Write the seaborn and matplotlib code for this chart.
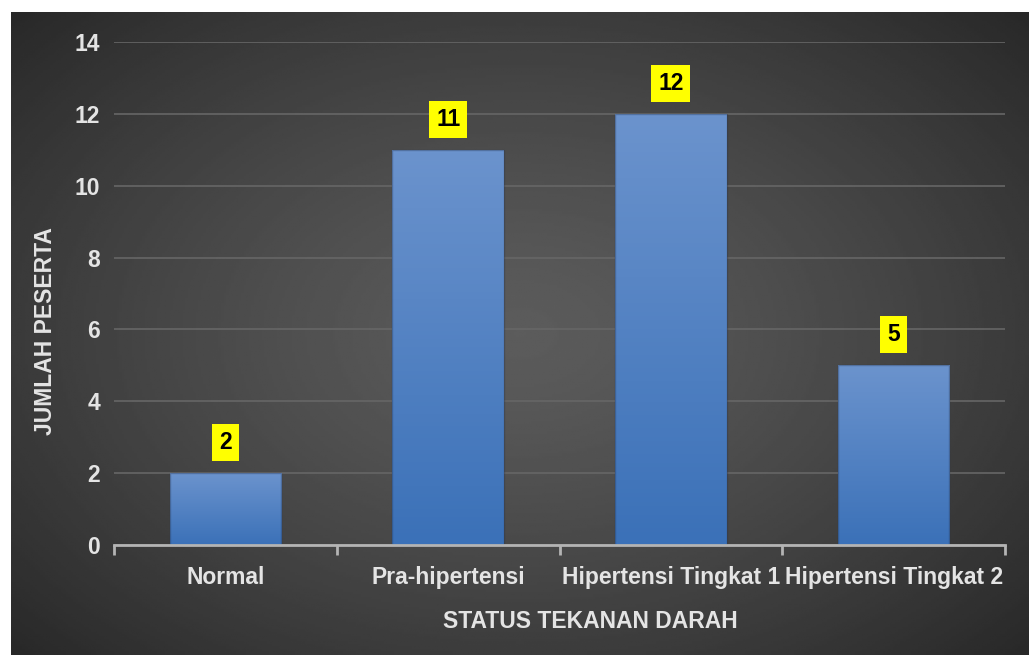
import numpy as np
import pandas as pd
import matplotlib
matplotlib.use("Agg")
import matplotlib.pyplot as plt
import seaborn as sns
from matplotlib.colors import LinearSegmentedColormap

# data
status = ["Normal", "Pra-hipertensi", "Hipertensi Tingkat 1", "Hipertensi Tingkat 2"]
jumlah = [2, 11, 12, 5]
y_ticks = [0, 2, 4, 6, 8, 10, 12, 14]

df = pd.DataFrame({"status": status, "jumlah": jumlah})

sns.set_theme(style="dark")
plt.rcParams['font.family'] = ['Liberation Sans', 'DejaVu Sans']
plt.rcParams['font.weight'] = 'bold'

W, H = 1029, 655
FS = 16.5
TXT = "#e4e4e4"
fig = plt.figure(figsize=(W / 100, H / 100), dpi=100)
fig.patch.set_facecolor("white")

# -------- dark radial background --------
bg = fig.add_axes([11 / W, 0, 1 - 11 / W, 1 - 12 / H], zorder=-10)
gx, gy = np.meshgrid(np.linspace(-1, 1, 400), np.linspace(-1, 1, 260))
r = np.sqrt((gx * 0.95) ** 2 + (gy * 0.9) ** 2)
shade = 0.36 - 0.20 * np.clip(r / 1.3, 0, 1) ** 1.3
bg.imshow(shade, cmap="gray", vmin=0, vmax=1, aspect="auto", extent=[0, 1, 0, 1])
bg.set_axis_off()

# -------- main chart --------
ax = fig.add_axes([114 / W, 1 - 545 / H, (1005 - 114) / W, (545 - 42) / H], zorder=1)
ax.patch.set_alpha(0)

sns.barplot(data=df, x="status", y="jumlah", color="#4f80c2", width=0.5,
            saturation=1, ax=ax, zorder=3)

# gradient fill on bars
grad = np.linspace(0, 1, 100).reshape(-1, 1)
blue_cmap = LinearSegmentedColormap.from_list("bars", ["#3b71b8", "#6b93cd"])
for p in ax.patches:
    x0, y0 = p.get_x(), p.get_y()
    w, h = p.get_width(), p.get_height()
    p.set_facecolor("none")
    p.set_edgecolor((0.15, 0.2, 0.3, 0.35))
    p.set_linewidth(1.0)
    im = ax.imshow(grad, cmap=blue_cmap, origin="lower", aspect="auto",
                   extent=[x0, x0 + w, y0, y0 + h], zorder=2.9)
    im.set_clip_path(p)

ax.set_xlim(-0.5, 3.5)
ax.set_ylim(0, 14)
ax.set_yticks(y_ticks)
ax.yaxis.grid(True, color="#666666", linewidth=1.2, zorder=0)
ax.xaxis.grid(False)

for side in ["left", "right", "top"]:
    ax.spines[side].set_visible(False)
ax.spines["bottom"].set_color("#b4b4b4")
ax.spines["bottom"].set_linewidth(2)
ax.spines["bottom"].set_zorder(4)

# ticks at category boundaries
ax.set_xticks(range(len(status)))
ax.set_xticklabels(status)
ax.set_xticks(np.arange(-0.5, 4, 1), minor=True)
ax.tick_params(axis="x", which="major", length=0, pad=15, labelsize=FS,
               labelcolor=TXT)
ax.tick_params(axis="x", which="minor", length=7, width=2, color="#b4b4b4",
               direction="out", bottom=True)
ax.tick_params(axis="y", length=0, pad=10, labelsize=FS, labelcolor=TXT)
for t in ax.get_xticklabels() + ax.get_yticklabels():
    t.set_fontweight("bold")

ax.set_xlabel("")
ax.set_ylabel("")

# value labels in yellow boxes
for i, v in enumerate(jumlah):
    ax.annotate(str(v), xy=(i, v), xytext=(0, 22), textcoords="offset points",
                ha="center", va="center", fontsize=FS, fontweight="bold",
                color="black", zorder=5,
                bbox=dict(boxstyle="square,pad=0.3", fc="#ffff00", ec="none"))

fig.text(46 / W, 1 - 331 / H, "JUMLAH PESERTA", rotation=90, ha="center",
         va="center", fontsize=FS, fontweight="bold", color=TXT)
fig.text(590 / W, 1 - 622 / H, "STATUS TEKANAN DARAH", ha="center",
         va="center", fontsize=FS, fontweight="bold", color=TXT)

fig.savefig("out.png", dpi=100, facecolor=fig.get_facecolor())
